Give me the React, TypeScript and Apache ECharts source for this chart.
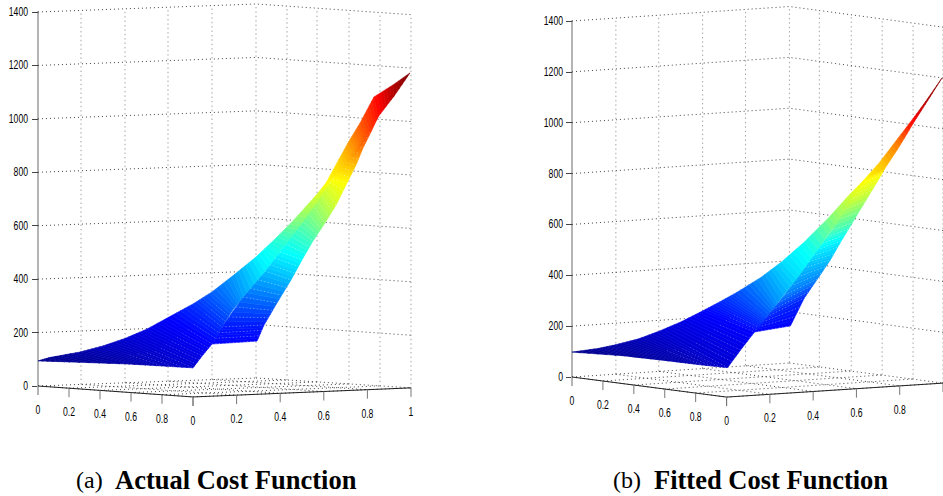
import React, { useEffect, useRef } from "react";
import * as echarts from "echarts";

// ---------- shared axis values ----------
const costTicks = [0, 200, 400, 600, 800, 1000, 1200, 1400];
const frontLabels = ["0", "0.2", "0.4", "0.6", "0.8"];
const sideLabelsA = ["0", "0.2", "0.4", "0.6", "0.8", "1"];
const sideLabelsB = ["0", "0.2", "0.4", "0.6", "0.8"];

// ---------- (a) actual cost: [u, cost] ----------
const wallUA = [0, 43, 87, 130, 174, 218, 249, 279, 311, 342, 373];
const wallLiftA = [0, 6, 12, 18, 24, 30, 22, 14, 6, -2, -10];
const floorA = [[0, 0], [155, -41], [373, -7], [218, 30]];
const upperA = [[0, 94], [12, 107], [42, 127], [65, 150], [87, 178], [109, 213], [130, 256], [155, 307], [174, 352], [197, 419], [218, 483], [235, 543], [255, 618], [280, 722], [288, 760], [299, 835], [310, 910], [322, 984], [336, 1082], [355, 1127], [372, 1172]];
const ridgeA = [[0, 94], [32, 90], [92, 82], [124, 75], [155, 68], [164, 112], [174, 157], [184, 221], [194, 281], [205, 333], [227, 430], [247, 528], [265, 614], [285, 722], [292, 764], [302, 808], [315, 872], [327, 932], [340, 1007], [356, 1085], [372, 1172]];
const upperShadeA = [0.01, 0.02, 0.04, 0.06, 0.08, 0.1, 0.125, 0.17, 0.22, 0.28, 0.36, 0.41, 0.5, 0.59, 0.625, 0.66, 0.72, 0.79, 0.86, 0.95, 1];
const seamA = [[174, 157], [184, 221], [205, 333], [227, 430], [242, 502], [259, 588], [275, 677], [287, 734], [295, 775], [308, 838], [319, 895], [328, 939], [340, 1007]];
const lowerA = [[219, 168], [226, 228], [239, 311], [253, 397], [264, 472], [275, 543], [287, 610], [298, 677], [309, 760], [318, 827], [325, 891], [333, 951], [340, 1007]];
const lowerShadeA = [0.125, 0.15, 0.23, 0.31, 0.37, 0.44, 0.52, 0.58, 0.625, 0.69, 0.76, 0.81, 0.87];

// ---------- (b) fitted cost ----------
const wallUB = [0, 44, 87, 131, 174, 218, 248, 280, 311, 342, 372];
const wallLiftB = [0, 11, 23, 34, 46, 57, 41, 25, 9, -8, -24];
const floorB = [[0, 0], [155, -79], [372, -24], [218, 55]];
const upperB = [[0, 98], [26, 112], [43, 126], [66, 149], [88, 181], [110, 218], [131, 260], [148, 295], [165, 332], [190, 393], [210, 452], [233, 531], [258, 629], [278, 716], [291, 767], [308, 842], [324, 924], [341, 1011], [354, 1080], [371, 1176]];
const ridgeB = [[0, 98], [53, 83], [106, 59], [131, 47], [156, 37], [169, 106], [183, 177], [189, 205], [195, 236], [206, 291], [225, 385], [243, 484], [264, 598], [281, 704], [294, 775], [314, 822], [328, 905], [343, 1003], [357, 1089], [371, 1176]];
const upperShadeB = [0.01, 0.025, 0.04, 0.055, 0.08, 0.1, 0.125, 0.16, 0.2, 0.27, 0.34, 0.39, 0.5, 0.58, 0.625, 0.68, 0.75, 0.875, 0.95, 1];
const seamB = [[183, 177], [195, 236], [213, 322], [233, 429], [246, 500], [261, 578], [279, 696], [291, 763], [308, 826]];
const lowerB = [[219, 201], [233, 311], [246, 385], [259, 460], [270, 535], [281, 606], [301, 735], [310, 794], [314, 822]];
const lowerShadeB = [0.125, 0.16, 0.25, 0.31, 0.36, 0.45, 0.58, 0.62, 0.68];

const LABEL_FONT = "'Liberation Sans', sans-serif";

function jet(t: number) {
  const f = (x: number) => Math.round(255 * Math.max(0, Math.min(1, x)));
  const r = f(Math.min(4 * t - 1.5, -4 * t + 4.5));
  const g = f(Math.min(4 * t - 0.5, -4 * t + 3.5));
  const b = f(Math.min(4 * t + 0.5, -4 * t + 2.5));
  return `rgb(${r},${g},${b})`;
}
const lerp = (a: number[], b: number[], k: number) => [a[0] + (b[0] - a[0]) * k, a[1] + (b[1] - a[1]) * k];

const BANDS = 6;

function meshSeries(axisIndex: number, edgeA: number[][], edgeB: number[][], shade: number[], dots: number, dotFrom = 0, dotTo = 999) {
  return {
    type: "custom",
    coordinateSystem: "cartesian2d",
    xAxisIndex: axisIndex,
    yAxisIndex: axisIndex,
    clip: false,
    silent: true,
    z: 3,
    data: edgeA.slice(0, -1).map((_, i) => [i]),
    renderItem(params: any, api: any) {
      const i = api.value(0);
      const children: any[] = [];
      for (let k = 0; k < BANDS; k++) {
        const k0 = k / BANDS;
        const k1 = (k + 1) / BANDS;
        const pts = [
          lerp(edgeA[i], edgeA[i + 1], k0),
          lerp(edgeA[i], edgeA[i + 1], k1),
          lerp(edgeB[i], edgeB[i + 1], k1),
          lerp(edgeB[i], edgeB[i + 1], k0),
        ].map((p) => api.coord(p));
        const c = jet(shade[i] + (shade[i + 1] - shade[i]) * (k0 + k1) / 2);
        children.push({ type: "polygon", shape: { points: pts }, style: { fill: c, stroke: c, lineWidth: 0.6 } });
      }
      if (dots > 0 && i >= dotFrom && i <= dotTo) {
        for (let k = 0; k < 3; k++) {
          const kk = k / 3;
          const near = lerp(edgeA[i], edgeB[i], 0.45);
          const nearNext = lerp(edgeA[i + 1], edgeB[i + 1], 0.45);
          const start = dotFrom > 0 ? lerp(near, nearNext, kk) : lerp(edgeA[i], edgeA[i + 1], kk);
          const pts = [start, lerp(edgeB[i], edgeB[i + 1], kk)].map((p) => api.coord(p));
          children.push({
            type: "polyline",
            shape: { points: pts },
            style: { stroke: "#fff", lineWidth: 0.7, lineDash: [1, 2.5], opacity: dots, fill: null },
          });
        }
      }
      return { type: "group", children };
    },
  };
}

const labelText = (text: string, x: number, y: number, align: string) => ({
  type: "text",
  x,
  y,
  scaleX: 0.72,
  style: { text, align, verticalAlign: "middle", fontFamily: LABEL_FONT, fontSize: 12, fill: "#000" },
});

function frameSeries(axisIndex: number, wallU: number[], wallLift: number[], floor: number[][], frontTxt: string[], sideTxt: string[], unit: number, labelGap: number) {
  const [A, B, C, D] = floor;
  const minor = "#a0a0a0";
  return {
    type: "custom",
    coordinateSystem: "cartesian2d",
    xAxisIndex: axisIndex,
    yAxisIndex: axisIndex,
    clip: false,
    silent: true,
    z: 1,
    data: [[0]],
    renderItem(params: any, api: any) {
      const children: any[] = [];
      const line = (pts: number[][], stroke: string, lineDash: any, lineWidth = 1) =>
        children.push({
          type: "polyline",
          shape: { points: pts.map((p) => api.coord(p)) },
          style: { stroke, lineDash, lineWidth, fill: null },
        });
      // back walls
      wallU.forEach((u, i) => {
        if (i > 0) line([[u, wallLift[i]], [u, 1400 + wallLift[i]]], minor, [1.4, 3]);
      });
      costTicks.forEach((c) => {
        const p = api.coord([0, c]);
        children.push(labelText(String(c), p[0] - labelGap, p[1], "right"));
        if (c > 0) line([[wallU[0], c], [wallU[5], c + wallLift[5]], [wallU[10], c + wallLift[10]]], "#444", [1, 3]);
      });
      // floor mesh
      for (let k = 0; k <= 5; k++) {
        const f = k / 5;
        line([lerp(A, B, f), lerp(D, C, f)], "#444", [1, 3]);
        line([lerp(A, D, f), lerp(B, C, f)], "#444", [1, 3]);
      }
      // floor outline, ticks and labels
      line([[0, 0], [0, -unit * 9]], "#b4b4b4", null, 2);
      line([A, B, C], "#222", null, 1);
      const ticks = (from: number[], to: number[], txt: string[]) => {
        for (let k = 0; k <= 5; k++) {
          const p = lerp(from, to, k / 5);
          if (k > 0 || from !== A) line([p, [p[0], p[1] - unit * 9]], "#777", null, 1);
          if (txt[k] !== undefined) {
            const q = api.coord(p);
            children.push(labelText(txt[k], q[0], q[1] + 24, "center"));
          }
        }
      };
      ticks(A, B, frontTxt);
      ticks(B, C, sideTxt);
      return { type: "group", children };
    },
  };
}

export default function App() {
  const ref = useRef<HTMLDivElement>(null);
  useEffect(() => {
    const chart = echarts.init(ref.current!, undefined, { renderer: "svg" });
    const yAxis = (gridIndex: number) => ({
      type: "value",
      gridIndex,
      min: 0,
      max: 1400,
      interval: 200,
      axisLine: { show: true, lineStyle: { color: "#b4b4b4", width: 2 } },
      axisTick: { show: true, length: 6, lineStyle: { color: "#444", width: 1 } },
      axisLabel: { show: false },
      splitLine: { show: false },
    });
    const xAxis = (gridIndex: number, max: number) => ({
      type: "value",
      gridIndex,
      min: 0,
      max,
      show: false,
      splitLine: { show: false },
    });
    const caption = (x: number, text: string, fontWeight: string, fontSize: number) => ({
      type: "text",
      x,
      y: 480,
      style: {
        text,
        fontFamily: "'Liberation Serif', serif",
        fontSize,
        fontWeight,
        fill: "#000",
        verticalAlign: "middle",
      },
    });
    chart.setOption({
      animation: false,
      backgroundColor: "#fff",
      grid: [
        { left: 38, top: 12, width: 373, height: 374 },
        { left: 572, top: 21, width: 372, height: 356 },
      ],
      xAxis: [xAxis(0, 373), xAxis(1, 372)],
      yAxis: [yAxis(0), yAxis(1)],
      series: [
        frameSeries(0, wallUA, wallLiftA, floorA, frontLabels, sideLabelsA, 3.743, 10),
        frameSeries(1, wallUB, wallLiftB, floorB, frontLabels, sideLabelsB, 3.933, 9),
        meshSeries(0, seamA, lowerA, lowerShadeA, 0.55),
        meshSeries(0, upperA, ridgeA, upperShadeA, 0.4, 3, 7),
        meshSeries(1, seamB, lowerB, lowerShadeB, 0.55),
        meshSeries(1, upperB, ridgeB, upperShadeB, 0.4, 3, 6),
      ],
      graphic: [
        caption(76, "(a)", "normal", 24),
        caption(115, "Actual Cost Function", "bold", 26.5),
        caption(613, "(b)", "normal", 24),
        caption(654, "Fitted Cost Function", "bold", 26.5),
      ],
    });
    return () => chart.dispose();
  }, []);
  return <div ref={ref} style={{ position: "absolute", left: 0, top: 0, width: 943, height: 496 }} />;
}
